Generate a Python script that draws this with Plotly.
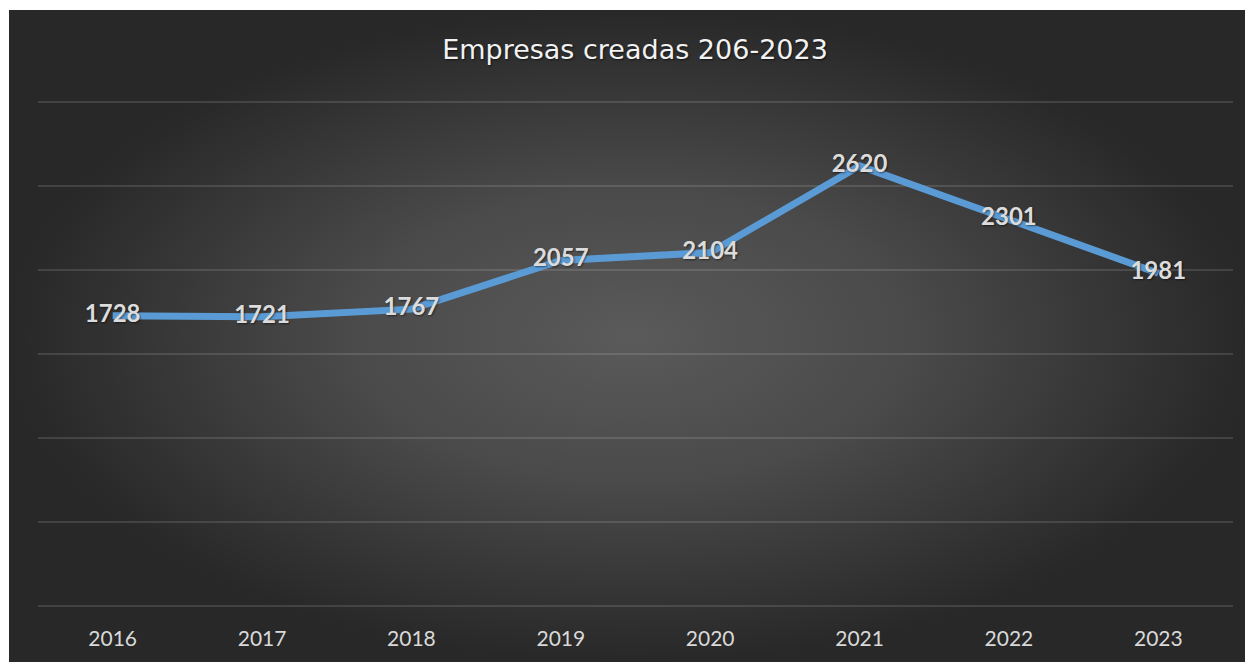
import plotly.graph_objects as go

# datos
years = ["2016", "2017", "2018", "2019", "2020", "2021", "2022", "2023"]
empresas = [1728, 1721, 1767, 2057, 2104, 2620, 2301, 1981]
titulo = "Empresas creadas 206-2023"

# la página deja 8px de margen en el body
W, H = 1245, 654

fig = go.Figure()

# fondo oscuro con degradado radial (en un eje auxiliar a toda la hoja)
fig.add_trace(go.Scatter(
    x=[1, W, W, 1, 1], y=[2, 2, H, H, 2],
    xaxis="x", yaxis="y",
    mode="lines", line=dict(width=0),
    fill="toself",
    fillgradient=dict(type="radial",
                      colorscale=[[0, "#5a5a5a"], [0.45, "#4a4a4a"],
                                  [0.85, "#313131"], [1, "#282828"]]),
    hoverinfo="skip", showlegend=False,
))

# serie principal
fig.add_trace(go.Scatter(
    x=years, y=empresas,
    xaxis="x2", yaxis="y2",
    mode="lines+text",
    line=dict(color="#5b9bd5", width=7),
    text=[str(v) for v in empresas],
    textposition="middle center",
    textfont=dict(family="Lato", size=24, color="#dcdcdc", weight="bold",
                  shadow="1px 1px 2px rgba(0,0,0,0.5)"),
    cliponaxis=False,
    showlegend=False,
))

fig.update_layout(
    width=W, height=H,
    margin=dict(l=0, r=0, t=0, b=0),
    paper_bgcolor="white",
    plot_bgcolor="rgba(0,0,0,0)",
    title=dict(text=titulo, x=627 / W, xanchor="center",
               y=1 - 42 / H, yanchor="middle",
               font=dict(family="DejaVu Sans", size=27, color="#f2f2f2",
                         shadow="1px 1px 2px rgba(0,0,0,0.6)")),
    xaxis=dict(domain=[0, 1], range=[0, W], visible=False, fixedrange=True),
    yaxis=dict(domain=[0, 1], range=[H, 0], visible=False, fixedrange=True),
    xaxis2=dict(domain=[30 / W, 1225 / W], anchor="y2", type="category",
                range=[-0.5, len(years) - 0.5],
                showgrid=False, zeroline=False, showline=False,
                ticks="", ticklabelstandoff=17,
                tickfont=dict(family="Lato", size=21, color="#d9d9d9")),
    yaxis2=dict(domain=[1 - 599 / H, 1 - 93 / H], anchor="x2",
                range=[-6, 3006], tickvals=[0, 500, 1000, 1500, 2000, 2500, 3000],
                showgrid=True, gridcolor="rgba(255,255,255,0.12)", gridwidth=2,
                zeroline=False, showticklabels=False, ticks=""),
)

fig.write_html("out.html")
